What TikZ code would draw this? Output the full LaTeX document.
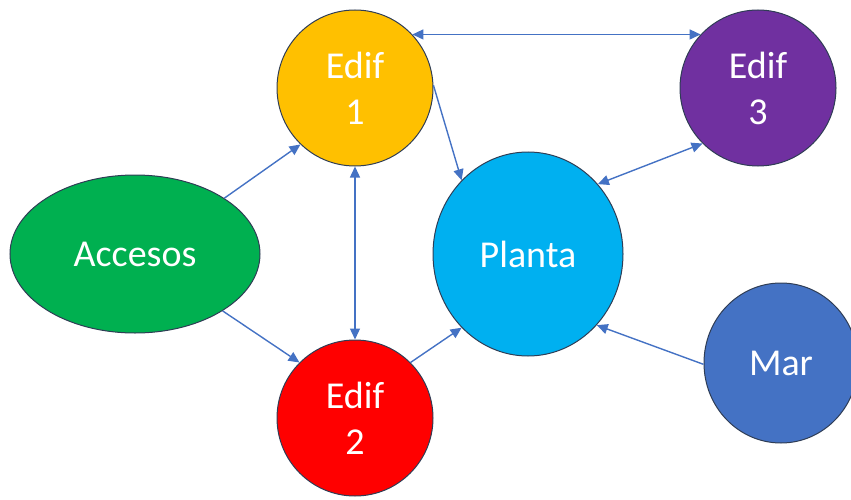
\documentclass[tikz,border=0pt]{standalone}
\usepackage{fontspec}
\setmainfont{Carlito}
\usetikzlibrary{arrows.meta,shapes.geometric}
\definecolor{accgreen}{HTML}{00B050}
\definecolor{edifgold}{HTML}{FFC000}
\definecolor{edifred}{HTML}{FF0000}
\definecolor{plantablue}{HTML}{00B0F0}
\definecolor{edifpurple}{HTML}{7030A0}
\definecolor{marblue}{HTML}{4472C4}
\definecolor{linkblue}{HTML}{4472C4}
\definecolor{rim}{HTML}{2F3D55}
\begin{document}
\begin{tikzpicture}[x=1pt,y=-1pt,
  zone/.style={draw=rim,line width=1pt,inner sep=0pt,text=white,align=center,
    font=\fontsize{38}{46}\selectfont},
  bldg/.style={zone,circle,minimum size=156pt},
  link/.style={draw=linkblue,line width=1.4pt,-{Triangle[length=11pt,width=10pt]}},
  both/.style={link,{Triangle[length=11pt,width=10pt]}-{Triangle[length=11pt,width=10pt]}}]
  \useasboundingbox (0,0) rectangle (851,500);
  \node[zone,ellipse,fill=accgreen,minimum width=250pt,minimum height=158pt] (acc) at (135,254) {Accesos};
  \node[bldg,fill=edifgold] (e1) at (355,88) {Edif\\1};
  \node[bldg,fill=edifred] (e2) at (355,418) {Edif\\2};
  \node[bldg,fill=edifpurple] (e3) at (758,88) {Edif\\3};
  \node[zone,ellipse,fill=plantablue,minimum width=190pt,minimum height=204pt] (pl) at (528,254) {Planta};
  \node[zone,ellipse,fill=marblue,minimum width=154pt,minimum height=160pt] (mar) at (781,363) {Mar};
  % connectors
  \draw[link] (acc.32) -- (e1.226);
  \draw[link] (acc.-33) -- (e2.135);
  \draw[both] (e1.south) -- (e2.north);
  \draw[both] (e1.43) -- (e3.137);
  \draw[link] (e1.2) -- (pl.132);
  \draw[both] (e3.225) -- (pl.45);
  \draw[link] (e2.45) -- (pl.228);
  \draw[link] (mar.181) -- (pl.314);
\end{tikzpicture}
\end{document}
